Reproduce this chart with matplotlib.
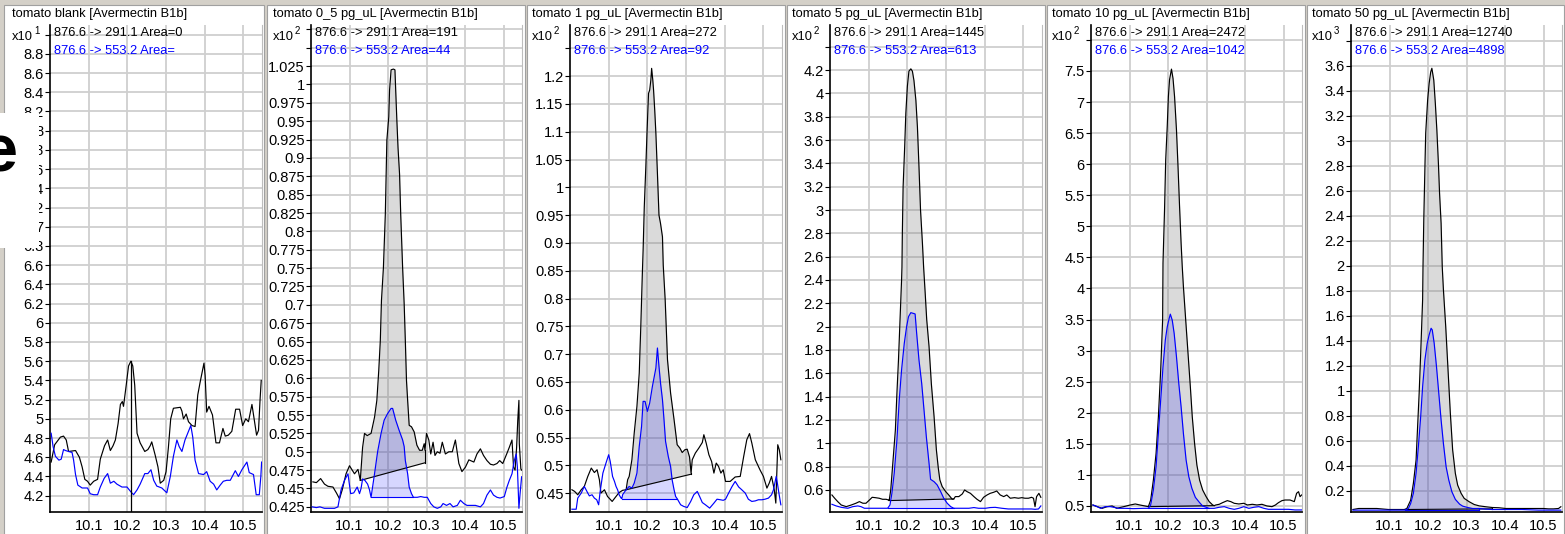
import numpy as np
import matplotlib.pyplot as plt
from matplotlib.patches import Rectangle

plt.rcParams["font.family"] = ["Liberation Sans", "DejaVu Sans"]

W, H = 1565, 534

TITLES = [
    "tomato blank [Avermectin B1b]",
    "tomato 0_5 pg_uL [Avermectin B1b]",
    "tomato 1 pg_uL [Avermectin B1b]",
    "tomato 5 pg_uL [Avermectin B1b]",
    "tomato 10 pg_uL [Avermectin B1b]",
    "tomato 50 pg_uL [Avermectin B1b]",
]
AREA_291 = ["0", "191", "272", "1445", "2472", "12740"]
AREA_553 = ["", "44", "92", "613", "1042", "4898"]
EXPONENTS = ["1", "2", "2", "2", "2", "3"]

X_TICKS = [10.1, 10.2, 10.3, 10.4, 10.5]
X_LIMITS = (10.0, 10.548)
Y_LIMITS = [(4.03, 9.1), (0.418, 1.081), (0.416, 1.292),
            (0.411, 4.586), (0.403, 8.24), (0.03, 3.926)]
Y_TICK_FIRST = [4.2, 0.425, 0.45, 0.6, 0.5, 0.2]
Y_TICK_STEP = [0.2, 0.025, 0.05, 0.2, 0.5, 0.2]
Y_TICK_LAST_LABEL = [8.8, 1.025, 1.2, 4.2, 7.5, 3.6]

# ---- panel 1: blank ----
P1_BLACK_X = [10.003, 10.012, 10.027, 10.035, 10.042, 10.048, 10.066, 10.076, 10.083, 10.090,
              10.097, 10.104, 10.113, 10.123, 10.130, 10.141, 10.149, 10.156, 10.163, 10.169,
              10.176, 10.182, 10.187, 10.190, 10.197, 10.203, 10.209, 10.214, 10.219, 10.225,
              10.233, 10.245, 10.253, 10.259, 10.263, 10.272, 10.279, 10.285, 10.294, 10.300,
              10.306, 10.312, 10.319, 10.337, 10.341, 10.345, 10.352, 10.358, 10.367, 10.375,
              10.382, 10.388, 10.398, 10.401, 10.405, 10.411, 10.420, 10.429, 10.438, 10.447,
              10.453, 10.461, 10.470, 10.480, 10.490, 10.498, 10.506, 10.513, 10.522, 10.534,
              10.539, 10.543, 10.546]
P1_BLACK_Y = [4.55, 4.73, 4.81, 4.82, 4.78, 4.66, 4.67, 4.60, 4.50, 4.37,
              4.35, 4.31, 4.35, 4.37, 4.58, 4.72, 4.78, 4.67, 4.72, 4.78,
              4.95, 5.15, 5.18, 5.13, 5.35, 5.55, 5.60, 5.55, 5.35, 4.85,
              4.75, 4.66, 4.68, 4.72, 4.76, 4.62, 4.50, 4.33, 4.36, 4.45,
              4.70, 5.00, 5.11, 5.12, 5.08, 5.00, 5.05, 4.97, 4.93, 4.92,
              5.25, 5.38, 5.58, 5.45, 5.07, 5.13, 5.04, 4.75, 4.75, 4.90,
              4.82, 4.83, 4.87, 5.10, 5.10, 4.93, 5.00, 4.97, 5.15, 4.83,
              4.88, 5.20, 5.40]
P1_BLUE_X = [10.003, 10.008, 10.014, 10.023, 10.029, 10.035, 10.040, 10.048, 10.057, 10.061,
             10.066, 10.072, 10.083, 10.097, 10.104, 10.113, 10.123, 10.130, 10.140, 10.149,
             10.156, 10.165, 10.173, 10.186, 10.199, 10.209, 10.216, 10.225, 10.233, 10.245,
             10.253, 10.261, 10.268, 10.276, 10.289, 10.302, 10.311, 10.319, 10.328, 10.334,
             10.341, 10.349, 10.358, 10.364, 10.369, 10.375, 10.384, 10.397, 10.405, 10.414,
             10.423, 10.431, 10.440, 10.448, 10.457, 10.466, 10.479, 10.487, 10.496, 10.509,
             10.515, 10.526, 10.533, 10.541, 10.545, 10.547]
P1_BLUE_Y = [4.85, 4.71, 4.61, 4.57, 4.58, 4.68, 4.67, 4.66, 4.65, 4.57,
             4.42, 4.31, 4.28, 4.28, 4.22, 4.21, 4.21, 4.29, 4.38, 4.43,
             4.33, 4.35, 4.32, 4.29, 4.29, 4.24, 4.21, 4.26, 4.32, 4.43,
             4.43, 4.47, 4.36, 4.30, 4.28, 4.23, 4.40, 4.61, 4.78, 4.71,
             4.66, 4.78, 4.87, 4.93, 4.81, 4.57, 4.43, 4.42, 4.45, 4.35,
             4.32, 4.26, 4.31, 4.35, 4.36, 4.36, 4.46, 4.40, 4.47, 4.55,
             4.44, 4.42, 4.21, 4.21, 4.40, 4.55]
P1_CURSOR = (10.21, 5.6)

# ---- panel 2: 0_5 pg/uL ----
P2_BLACK_X = [10.005, 10.014, 10.025, 10.035, 10.044, 10.057, 10.066, 10.074, 10.081, 10.091,
              10.100, 10.107, 10.113, 10.122, 10.128, 10.134, 10.139, 10.146, 10.156, 10.165,
              10.171, 10.176, 10.180, 10.183, 10.188, 10.193, 10.197, 10.202, 10.204, 10.208,
              10.214, 10.218, 10.220, 10.223, 10.226, 10.230, 10.233, 10.238, 10.242, 10.245,
              10.248, 10.251, 10.255, 10.261, 10.268, 10.275, 10.282, 10.289, 10.294, 10.296,
              10.300, 10.306, 10.311, 10.317, 10.322, 10.328, 10.335, 10.341, 10.349, 10.358,
              10.367, 10.375, 10.384, 10.392, 10.401, 10.410, 10.423, 10.431, 10.440, 10.448,
              10.457, 10.466, 10.474, 10.483, 10.490, 10.498, 10.509, 10.515, 10.522, 10.526,
              10.530, 10.534, 10.537, 10.540, 10.541, 10.545, 10.547]
P2_BLACK_Y = [0.459, 0.458, 0.4635, 0.456, 0.453, 0.452, 0.444, 0.436, 0.448, 0.470,
              0.481, 0.475, 0.470, 0.476, 0.461, 0.506, 0.525, 0.522, 0.525, 0.547,
              0.570, 0.611, 0.651, 0.706, 0.750, 0.823, 0.924, 0.956, 0.992, 1.020,
              1.021, 1.020, 0.992, 0.951, 0.914, 0.878, 0.823, 0.750, 0.701, 0.651,
              0.597, 0.570, 0.536, 0.534, 0.527, 0.509, 0.502, 0.502, 0.511, 0.502,
              0.525, 0.516, 0.497, 0.513, 0.495, 0.500, 0.498, 0.513, 0.497, 0.500,
              0.500, 0.516, 0.484, 0.473, 0.479, 0.489, 0.486, 0.497, 0.504, 0.495,
              0.488, 0.483, 0.482, 0.484, 0.488, 0.484, 0.498, 0.506, 0.516, 0.479,
              0.475, 0.506, 0.543, 0.570, 0.511, 0.477, 0.475]
P2_BLUE_X = [10.003, 10.014, 10.023, 10.035, 10.061, 10.070, 10.078, 10.087, 10.096, 10.103,
             10.111, 10.120, 10.126, 10.130, 10.134, 10.140, 10.147, 10.152, 10.156, 10.165,
             10.173, 10.182, 10.190, 10.199, 10.208, 10.212, 10.220, 10.229, 10.238, 10.242,
             10.245, 10.251, 10.255, 10.261, 10.266, 10.276, 10.285, 10.294, 10.302, 10.311,
             10.319, 10.328, 10.337, 10.343, 10.352, 10.361, 10.369, 10.380, 10.388, 10.397,
             10.405, 10.416, 10.427, 10.440, 10.448, 10.457, 10.466, 10.474, 10.483, 10.491,
             10.502, 10.509, 10.515, 10.522, 10.528, 10.533, 10.536, 10.540, 10.543, 10.547]
P2_BLUE_Y = [0.425, 0.424, 0.425, 0.423, 0.423, 0.425, 0.448, 0.461, 0.470, 0.443,
             0.444, 0.452, 0.443, 0.450, 0.463, 0.461, 0.456, 0.448, 0.438, 0.470,
             0.500, 0.525, 0.543, 0.552, 0.559, 0.559, 0.543, 0.529, 0.516, 0.507,
             0.488, 0.470, 0.452, 0.443, 0.438, 0.438, 0.439, 0.438, 0.438, 0.4295,
             0.425, 0.423, 0.425, 0.4295, 0.427, 0.4295, 0.425, 0.427, 0.434, 0.4295,
             0.427, 0.427, 0.427, 0.425, 0.4295, 0.441, 0.448, 0.441, 0.438, 0.437,
             0.439, 0.452, 0.461, 0.470, 0.488, 0.497, 0.479, 0.423, 0.443, 0.466]

# ---- panel 3: 1 pg/uL ----
P3_BLACK_X = [10.005, 10.012, 10.020, 10.029, 10.037, 10.046, 10.055, 10.063, 10.070, 10.076,
              10.080, 10.089, 10.097, 10.109, 10.119, 10.127, 10.136, 10.145, 10.149, 10.153,
              10.160, 10.166, 10.173, 10.179, 10.183, 10.187, 10.189, 10.192, 10.196, 10.199,
              10.203, 10.206, 10.209, 10.211, 10.214, 10.216, 10.219, 10.222, 10.226, 10.230,
              10.234, 10.239, 10.241, 10.246, 10.252, 10.260, 10.269, 10.277, 10.284, 10.290,
              10.297, 10.303, 10.309, 10.313, 10.316, 10.324, 10.333, 10.342, 10.346, 10.352,
              10.359, 10.366, 10.372, 10.378, 10.384, 10.390, 10.396, 10.402, 10.414, 10.427,
              10.440, 10.449, 10.457, 10.464, 10.470, 10.479, 10.491, 10.500, 10.509, 10.515,
              10.521, 10.528, 10.532, 10.537, 10.541, 10.545]
P3_BLACK_Y = [0.456, 0.453, 0.447, 0.456, 0.462, 0.480, 0.495, 0.487, 0.492, 0.474,
              0.450, 0.456, 0.444, 0.435, 0.444, 0.451, 0.455, 0.456, 0.474, 0.480,
              0.510, 0.558, 0.606, 0.666, 0.750, 0.845, 0.887, 0.965, 1.037, 1.097,
              1.169, 1.175, 1.193, 1.214, 1.193, 1.175, 1.139, 1.097, 1.025, 0.950,
              0.935, 0.911, 0.860, 0.798, 0.690, 0.630, 0.582, 0.537, 0.531, 0.523,
              0.528, 0.529, 0.515, 0.486, 0.510, 0.522, 0.531, 0.541, 0.555, 0.540,
              0.519, 0.507, 0.486, 0.504, 0.498, 0.486, 0.492, 0.471, 0.471, 0.479,
              0.480, 0.516, 0.546, 0.557, 0.540, 0.510, 0.492, 0.480, 0.459, 0.468,
              0.480, 0.456, 0.432, 0.537, 0.528, 0.510]
P3_BLUE_X = [10.005, 10.016, 10.020, 10.029, 10.037, 10.046, 10.050, 10.057, 10.063, 10.069,
             10.074, 10.078, 10.085, 10.093, 10.100, 10.104, 10.110, 10.115, 10.119, 10.123,
             10.127, 10.132, 10.134, 10.136, 10.145, 10.153, 10.160, 10.166, 10.173, 10.179,
             10.185, 10.189, 10.194, 10.200, 10.206, 10.213, 10.222, 10.226, 10.230, 10.234,
             10.239, 10.243, 10.247, 10.254, 10.260, 10.264, 10.269, 10.273, 10.277, 10.286,
             10.294, 10.303, 10.312, 10.320, 10.329, 10.335, 10.342, 10.350, 10.361, 10.372,
             10.380, 10.389, 10.396, 10.402, 10.410, 10.419, 10.427, 10.436, 10.444, 10.453,
             10.461, 10.470, 10.479, 10.487, 10.496, 10.504, 10.513, 10.521, 10.526, 10.533,
             10.536, 10.540, 10.545]
P3_BLUE_Y = [0.421, 0.421, 0.441, 0.450, 0.462, 0.450, 0.445, 0.447, 0.441, 0.438,
             0.429, 0.453, 0.486, 0.504, 0.519, 0.507, 0.480, 0.471, 0.462, 0.456,
             0.447, 0.441, 0.440, 0.447, 0.456, 0.462, 0.459, 0.468, 0.486, 0.534,
             0.570, 0.615, 0.615, 0.597, 0.612, 0.642, 0.675, 0.711, 0.678, 0.648,
             0.618, 0.582, 0.543, 0.516, 0.498, 0.474, 0.456, 0.444, 0.440, 0.429,
             0.426, 0.424, 0.435, 0.447, 0.453, 0.444, 0.433, 0.429, 0.423, 0.432,
             0.439, 0.438, 0.437, 0.439, 0.450, 0.462, 0.471, 0.461, 0.456, 0.450,
             0.439, 0.435, 0.436, 0.438, 0.438, 0.439, 0.441, 0.447, 0.456, 0.480,
             0.468, 0.450, 0.429]

# ---- panel 4: 5 pg/uL ----
P4_BLACK_X = [10.005, 10.012, 10.020, 10.029, 10.042, 10.055, 10.067, 10.076, 10.085, 10.093,
              10.102, 10.109, 10.117, 10.127, 10.136, 10.145, 10.151, 10.153, 10.157, 10.163,
              10.169, 10.173, 10.177, 10.181, 10.185, 10.186, 10.187, 10.189, 10.193, 10.196,
              10.200, 10.204, 10.209, 10.213, 10.217, 10.222, 10.226, 10.230, 10.234, 10.239,
              10.242, 10.246, 10.250, 10.256, 10.262, 10.269, 10.275, 10.280, 10.284, 10.290,
              10.299, 10.307, 10.316, 10.320, 10.324, 10.333, 10.342, 10.348, 10.354, 10.363,
              10.372, 10.380, 10.389, 10.397, 10.406, 10.414, 10.423, 10.431, 10.440, 10.449,
              10.457, 10.466, 10.477, 10.487, 10.496, 10.504, 10.513, 10.521, 10.526, 10.530,
              10.534, 10.540, 10.545]
P4_BLACK_Y = [0.557, 0.529, 0.500, 0.471, 0.457, 0.471, 0.486, 0.500, 0.486, 0.486,
              0.514, 0.537, 0.534, 0.529, 0.520, 0.520, 0.514, 0.509, 0.600, 0.857,
              1.114, 1.430, 1.714, 2.057, 2.400, 2.510, 2.800, 3.200, 3.540, 3.830,
              4.060, 4.190, 4.210, 4.190, 4.110, 3.940, 3.710, 3.370, 3.000, 2.710,
              2.510, 2.290, 2.060, 1.830, 1.510, 1.230, 0.943, 0.786, 0.686, 0.629,
              0.586, 0.557, 0.520, 0.523, 0.543, 0.543, 0.566, 0.600, 0.586, 0.571,
              0.543, 0.520, 0.500, 0.537, 0.557, 0.571, 0.580, 0.591, 0.557, 0.543,
              0.557, 0.529, 0.534, 0.529, 0.534, 0.529, 0.529, 0.537, 0.529, 0.457,
              0.543, 0.571, 0.537]
P4_BLUE_X = [10.005, 10.016, 10.029, 10.046, 10.059, 10.072, 10.080, 10.089, 10.102, 10.119,
             10.136, 10.145, 10.149, 10.155, 10.160, 10.166, 10.173, 10.179, 10.185, 10.192,
             10.198, 10.203, 10.209, 10.215, 10.220, 10.224, 10.230, 10.237, 10.243, 10.249,
             10.256, 10.260, 10.269, 10.277, 10.286, 10.294, 10.303, 10.312, 10.320, 10.333,
             10.346, 10.359, 10.372, 10.384, 10.402, 10.414, 10.427, 10.444, 10.461, 10.487,
             10.504, 10.521, 10.530, 10.539, 10.545]
P4_BLUE_Y = [0.477, 0.463, 0.451, 0.443, 0.457, 0.463, 0.457, 0.443, 0.443, 0.443,
             0.443, 0.443, 0.443, 0.471, 0.571, 0.743, 1.029, 1.371, 1.629, 1.857,
             2.000, 2.086, 2.120, 2.114, 2.109, 1.943, 1.714, 1.514, 1.286, 1.057,
             0.829, 0.691, 0.671, 0.643, 0.586, 0.529, 0.486, 0.457, 0.443, 0.443,
             0.443, 0.443, 0.449, 0.443, 0.443, 0.449, 0.451, 0.443, 0.437, 0.437,
             0.437, 0.437, 0.434, 0.437, 0.463]

# ---- panel 5: 10 pg/uL ----
P5_BLACK_X = [10.005, 10.016, 10.029, 10.042, 10.055, 10.067, 10.085, 10.102, 10.115, 10.127,
              10.140, 10.149, 10.155, 10.162, 10.169, 10.175, 10.181, 10.186, 10.187, 10.191,
              10.194, 10.198, 10.201, 10.204, 10.209, 10.213, 10.217, 10.222, 10.226, 10.230,
              10.234, 10.237, 10.240, 10.246, 10.252, 10.258, 10.263, 10.269, 10.275, 10.282,
              10.290, 10.299, 10.307, 10.316, 10.320, 10.324, 10.333, 10.342, 10.354, 10.363,
              10.372, 10.384, 10.397, 10.406, 10.419, 10.431, 10.444, 10.457, 10.470, 10.479,
              10.487, 10.496, 10.504, 10.517, 10.528, 10.534, 10.539, 10.543, 10.547]
P5_BLACK_Y = [0.516, 0.489, 0.462, 0.489, 0.500, 0.462, 0.489, 0.516, 0.532, 0.516,
              0.500, 0.489, 0.596, 0.918, 1.347, 1.936, 2.686, 3.490, 4.410, 5.270,
              6.070, 6.610, 7.090, 7.360, 7.530, 7.380, 7.090, 6.550, 5.960, 5.320,
              4.730, 4.350, 4.030, 3.490, 2.954, 2.419, 1.936, 1.507, 1.159, 0.918,
              0.757, 0.650, 0.570, 0.516, 0.505, 0.516, 0.527, 0.554, 0.586, 0.570,
              0.543, 0.532, 0.543, 0.516, 0.527, 0.516, 0.527, 0.500, 0.489, 0.516,
              0.554, 0.586, 0.596, 0.596, 0.570, 0.704, 0.730, 0.650, 0.677]
P5_BLUE_X = [10.005, 10.016, 10.025, 10.037, 10.050, 10.059, 10.072, 10.089, 10.110, 10.136,
             10.149, 10.155, 10.162, 10.169, 10.175, 10.181, 10.187, 10.193, 10.198, 10.203,
             10.206, 10.211, 10.216, 10.222, 10.228, 10.234, 10.240, 10.247, 10.254, 10.262,
             10.271, 10.282, 10.290, 10.299, 10.307, 10.320, 10.333, 10.346, 10.359, 10.372,
             10.384, 10.397, 10.410, 10.423, 10.436, 10.449, 10.461, 10.479, 10.496, 10.513,
             10.530, 10.547]
P5_BLUE_Y = [0.516, 0.489, 0.462, 0.489, 0.489, 0.479, 0.462, 0.462, 0.457, 0.462,
             0.462, 0.516, 0.757, 1.132, 1.668, 2.204, 2.740, 3.169, 3.383, 3.517,
             3.587, 3.490, 3.276, 2.900, 2.472, 2.097, 1.668, 1.240, 0.972, 0.784,
             0.639, 0.554, 0.500, 0.479, 0.462, 0.462, 0.479, 0.489, 0.462, 0.446,
             0.462, 0.489, 0.462, 0.479, 0.489, 0.462, 0.446, 0.446, 0.446, 0.446,
             0.436, 0.436]

# ---- panel 6: 50 pg/uL ----
P6_BLACK_X = [10.005, 10.020, 10.042, 10.067, 10.097, 10.123, 10.139, 10.145, 10.149, 10.155,
              10.162, 10.169, 10.173, 10.177, 10.181, 10.186, 10.187, 10.189, 10.192, 10.194,
              10.199, 10.203, 10.207, 10.210, 10.215, 10.219, 10.223, 10.227, 10.230, 10.234,
              10.237, 10.240, 10.246, 10.252, 10.258, 10.264, 10.271, 10.277, 10.286, 10.294,
              10.307, 10.320, 10.333, 10.350, 10.367, 10.384, 10.402, 10.419, 10.436, 10.453,
              10.470, 10.487, 10.500, 10.513, 10.526, 10.539, 10.545]
P6_BLACK_Y = [0.050, 0.058, 0.058, 0.058, 0.050, 0.050, 0.050, 0.058, 0.085, 0.125,
              0.259, 0.446, 0.713, 0.980, 1.300, 1.728, 1.990, 2.365, 2.790, 3.060,
              3.325, 3.460, 3.550, 3.580, 3.485, 3.300, 3.085, 2.820, 2.580, 2.340,
              1.990, 1.810, 1.514, 1.167, 0.820, 0.526, 0.339, 0.245, 0.179, 0.139,
              0.112, 0.090, 0.079, 0.072, 0.066, 0.064, 0.058, 0.058, 0.058, 0.058,
              0.058, 0.058, 0.058, 0.055, 0.055, 0.058, 0.072]
P6_BLUE_X = [10.005, 10.050, 10.100, 10.140, 10.149, 10.155, 10.162, 10.169, 10.175, 10.181,
             10.186, 10.192, 10.198, 10.203, 10.208, 10.211, 10.216, 10.222, 10.228, 10.234,
             10.240, 10.247, 10.254, 10.262, 10.271, 10.282, 10.290, 10.303, 10.316, 10.333,
             10.350, 10.367, 10.402, 10.444, 10.487, 10.521, 10.545]
P6_BLUE_Y = [0.045, 0.045, 0.045, 0.045, 0.058, 0.098, 0.179, 0.339, 0.553, 0.793,
             1.033, 1.247, 1.381, 1.447, 1.500, 1.487, 1.381, 1.194, 0.980, 0.766,
             0.579, 0.392, 0.285, 0.192, 0.131, 0.093, 0.077, 0.066, 0.058, 0.058,
             0.053, 0.050, 0.050, 0.050, 0.045, 0.045, 0.045]

BLACK_X = [P1_BLACK_X, P2_BLACK_X, P3_BLACK_X, P4_BLACK_X, P5_BLACK_X, P6_BLACK_X]
BLACK_Y = [P1_BLACK_Y, P2_BLACK_Y, P3_BLACK_Y, P4_BLACK_Y, P5_BLACK_Y, P6_BLACK_Y]
BLUE_X = [P1_BLUE_X, P2_BLUE_X, P3_BLUE_X, P4_BLUE_X, P5_BLUE_X, P6_BLUE_X]
BLUE_Y = [P1_BLUE_Y, P2_BLUE_Y, P3_BLUE_Y, P4_BLUE_Y, P5_BLUE_Y, P6_BLUE_Y]

# integration windows: (start x, end x, baseline at start, baseline at end); None = not integrated
BLACK_PEAKS = [None, (10.128, 10.296, 0.461, 0.485), (10.145, 10.313, 0.456, 0.484),
               (10.153, 10.320, 0.509, 0.523), (10.149, 10.320, 0.489, 0.505),
               (10.139, 10.367, 0.050, 0.055)]
BLUE_PEAKS = [None, (10.156, 10.266, 0.438, 0.438), (10.134, 10.277, 0.440, 0.440),
              (10.149, 10.320, 0.443, 0.443), (10.149, 10.307, 0.462, 0.462),
              (10.140, 10.333, 0.045, 0.045)]

# layout in pixels
PANEL_L = [4, 267, 527, 787, 1047, 1307]
PANEL_R = [264, 525, 785, 1045, 1305, 1564]
AX_L = [50, 311, 570, 830, 1091, 1351]
AX_R = [262, 522, 782, 1042, 1302, 1562]
AX_T, AX_B = 25, 512
TEXT_X = [12, 273, 532, 792, 1052, 1312]

GRID = "#cfcfcf"
BLUE = "#0000ff"


def fx(px):
    return px / W


def fy(py):
    return 1 - py / H


def draw_peak(ax, xs, ys, peak, face, alpha, edge, z):
    x0, x1, b0, b1 = peak
    xs = np.asarray(xs)
    ys = np.asarray(ys)
    m = (xs >= x0 - 1e-9) & (xs <= x1 + 1e-9)
    px, py = xs[m], ys[m]
    base = np.interp(px, [x0, x1], [b0, b1])
    ax.fill_between(px, py, base, color=face, alpha=alpha, lw=0, zorder=z)
    ax.plot([x0, x1], [b0, b1], color=edge, lw=0.8, zorder=z + 2)
    ax.plot([px[-1], px[-1]], [py[-1], b1], color=edge, lw=0.8, zorder=z + 2)


fig = plt.figure(figsize=(W / 100, H / 100), dpi=100, facecolor="#d4d0c8")

for i in range(6):
    fig.add_artist(Rectangle((fx(PANEL_L[i]), fy(H + 2)), fx(PANEL_R[i] - PANEL_L[i]), (H - 3) / H,
                             transform=fig.transFigure, facecolor="white",
                             edgecolor="#a0a0a0", lw=0.8, zorder=-5))

    ax = fig.add_axes([fx(AX_L[i]), fy(AX_B), fx(AX_R[i] - AX_L[i]), (AX_B - AX_T) / H])
    ax.set_facecolor("white")
    ax.set_xlim(*X_LIMITS)
    ax.set_ylim(*Y_LIMITS[i])

    first, step, last = Y_TICK_FIRST[i], Y_TICK_STEP[i], Y_TICK_LAST_LABEL[i]
    ticks = np.round(np.arange(first, Y_LIMITS[i][1], step), 4)
    labels = [f"{t:g}" if t <= last + 1e-6 else "" for t in ticks]
    ax.set_yticks(ticks)
    ax.set_yticklabels(labels)
    ax.set_xticks(X_TICKS)
    ax.set_xticklabels([f"{t:g}" for t in X_TICKS])
    ax.tick_params(axis="y", length=3.5, width=0.8, pad=1, labelsize=10.5)
    ax.tick_params(axis="x", length=0, pad=5, labelsize=10.5)
    ax.grid(True, color=GRID, lw=1.3, zorder=0)
    ax.set_axisbelow(True)
    ax.spines["top"].set_visible(False)
    ax.spines["right"].set_color("#bdbdbd")
    ax.spines["left"].set_linewidth(1.2)
    ax.spines["bottom"].set_linewidth(1.2)

    if BLACK_PEAKS[i]:
        draw_peak(ax, BLACK_X[i], BLACK_Y[i], BLACK_PEAKS[i], "#7a7a7a", 0.28, "black", 1)
    if BLUE_PEAKS[i]:
        draw_peak(ax, BLUE_X[i], BLUE_Y[i], BLUE_PEAKS[i], BLUE, 0.16, BLUE, 2)
    ax.plot(BLACK_X[i], BLACK_Y[i], color="black", lw=0.85, zorder=4)
    ax.plot(BLUE_X[i], BLUE_Y[i], color=BLUE, lw=0.85, zorder=5)
    if i == 0:
        ax.plot([P1_CURSOR[0]] * 2, [Y_LIMITS[0][0], P1_CURSOR[1]], color="black", lw=0.9, zorder=6)

    fig.text(fx(TEXT_X[i]), fy(14), TITLES[i], fontsize=9.3, ha="left", va="center")
    fig.text(fx(TEXT_X[i]), fy(37), "x10", fontsize=9.3, ha="left", va="center")
    fig.text(fx(TEXT_X[i] + 22), fy(31), EXPONENTS[i], fontsize=7, ha="left", va="center")
    fig.text(fx(AX_L[i] + 4), fy(33), f"876.6 -> 291.1 Area={AREA_291[i]}",
             fontsize=9.3, ha="left", va="center", color="black")
    fig.text(fx(AX_L[i] + 4), fy(51), f"876.6 -> 553.2 Area={AREA_553[i]}",
             fontsize=9.3, ha="left", va="center", color=BLUE)

# stray slide fragment covering part of the first panel's axis labels
fig.add_artist(Rectangle((0, fy(248)), fx(39), 135 / H, transform=fig.transFigure,
                         facecolor="white", edgecolor="none", zorder=20))
fig.text(fx(17), fy(172), "e", fontsize=48, fontweight="bold", ha="right", va="baseline", zorder=21)

fig.savefig("out.png", dpi=100, facecolor=fig.get_facecolor())
